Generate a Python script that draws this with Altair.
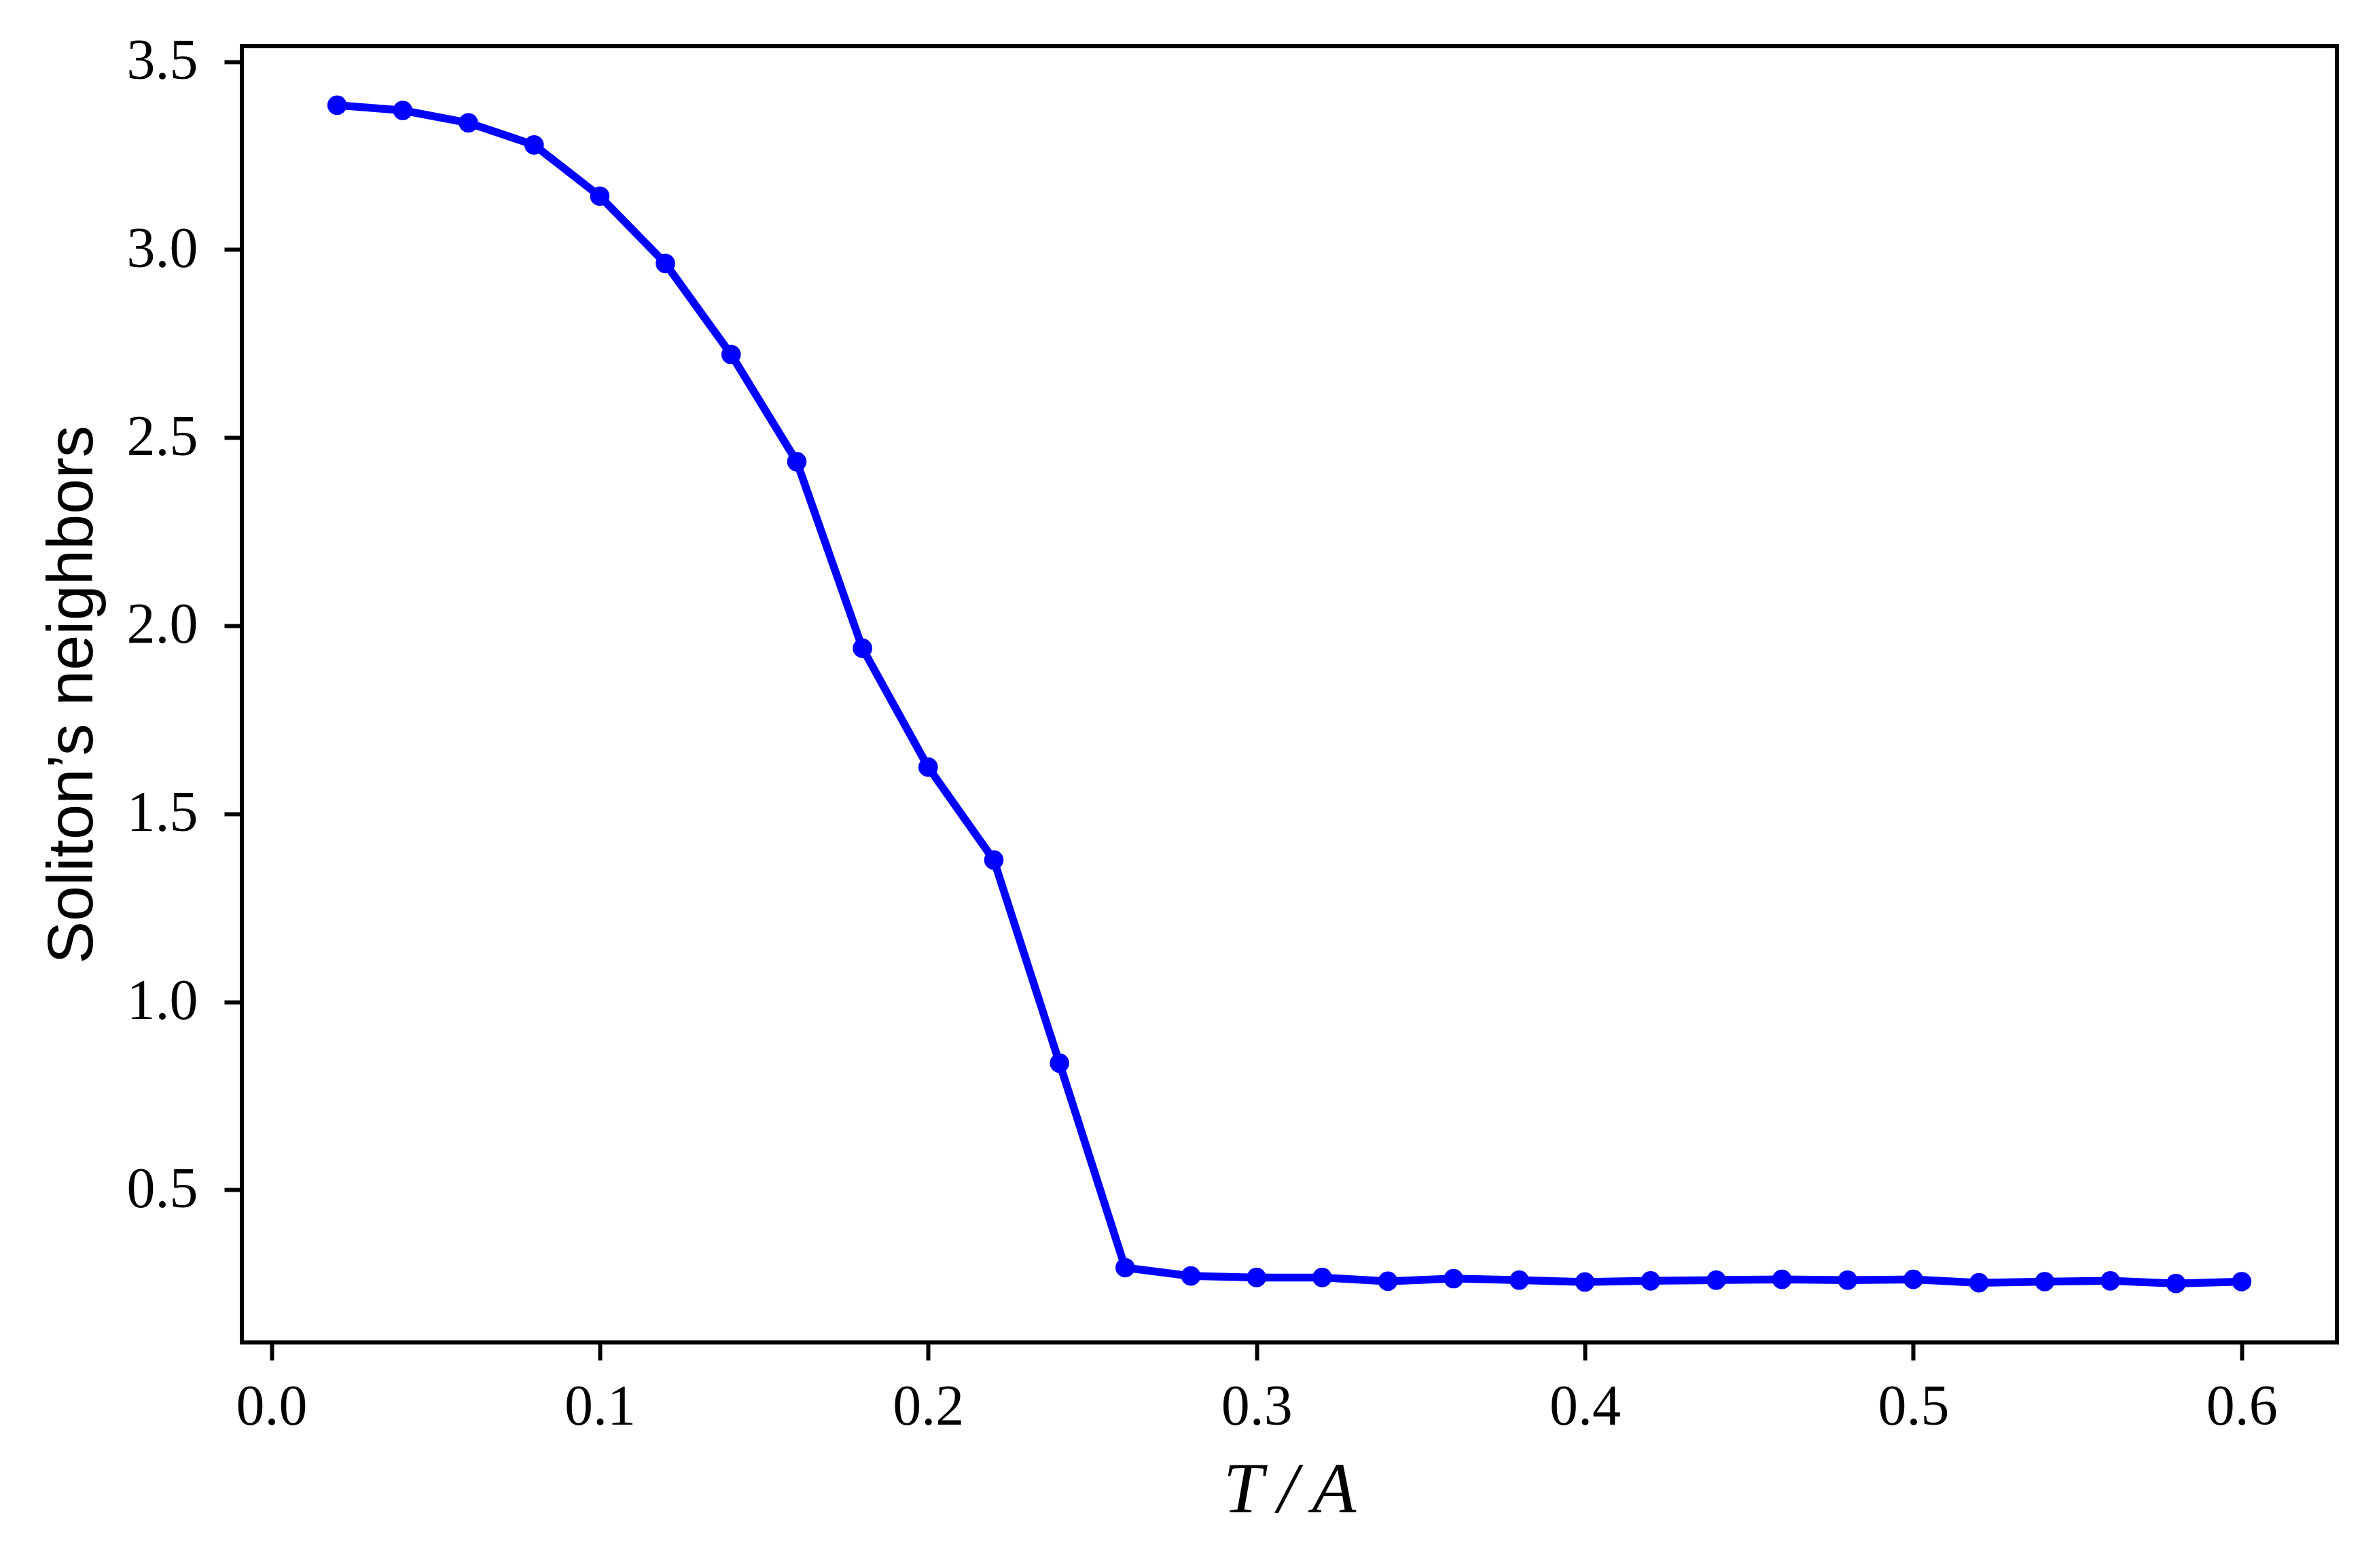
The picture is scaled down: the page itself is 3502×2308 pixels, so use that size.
import altair as alt
import pandas as pd

# Data
t_over_a = [0.02, 0.04, 0.06, 0.08, 0.10, 0.12, 0.14, 0.16, 0.18, 0.20,
            0.22, 0.24, 0.26, 0.28, 0.30, 0.32, 0.34, 0.36, 0.38, 0.40,
            0.42, 0.44, 0.46, 0.48, 0.50, 0.52, 0.54, 0.56, 0.58, 0.60]
neighbors = [3.384, 3.370, 3.337, 3.278, 3.142, 2.963, 2.721, 2.436, 1.940, 1.624,
             1.377, 0.837, 0.293, 0.271, 0.267, 0.267, 0.257, 0.264, 0.260, 0.255,
             0.258, 0.260, 0.262, 0.260, 0.262, 0.253, 0.256, 0.258, 0.251, 0.256]

x_ticks = [0.0, 0.1, 0.2, 0.3, 0.4, 0.5, 0.6]
y_ticks = [0.5, 1.0, 1.5, 2.0, 2.5, 3.0, 3.5]
x_domain = [-0.009, 0.629]
y_domain = [0.0943, 3.5407]

df = pd.DataFrame({"T": t_over_a, "N": neighbors})

BLUE = "#0000ff"

x_enc = alt.X(
    "T:Q",
    scale=alt.Scale(domain=x_domain, nice=False, zero=False),
    axis=alt.Axis(
        values=x_ticks, format=".1f", title="T\u2009/\u2009A",
        titleFont="Liberation Serif", titleFontStyle="italic",
        titleFontWeight="normal", titleFontSize=106, titleColor="black",
        titleY=249, titleBaseline="alphabetic",
        labelPadding=28,
    ),
)
y_enc = alt.Y(
    "N:Q",
    scale=alt.Scale(domain=y_domain, nice=False, zero=False),
    axis=alt.Axis(
        values=y_ticks, format=".1f", title="Soliton\u2019s neighbors",
        titleFont="Liberation Sans", titleFontWeight="normal",
        titleFontSize=94, titleColor="black",
        titleX=-221, titleBaseline="alphabetic",
        labelPadding=39,
    ),
)

line = alt.Chart(df).mark_line(color=BLUE, strokeWidth=11.5).encode(x=x_enc, y=y_enc)
pts = alt.Chart(df).mark_circle(color=BLUE, size=820, opacity=1).encode(x="T:Q", y="N:Q")

chart = (
    alt.layer(line, pts)
    .properties(
        width=3084,
        height=1908,
        autosize=alt.AutoSizeParams(type="none"),
        padding={"left": 348, "top": 60, "right": 54, "bottom": 324},
        background="white",
    )
    .configure_view(stroke="black", strokeWidth=6)
    .configure_axis(
        grid=False,
        domain=False,
        ticks=True,
        tickColor="black",
        tickWidth=6,
        tickSize=26,
        labelFont="Liberation Serif",
        labelFontSize=84,
        labelColor="black",
    )
)

chart.save("out.html", embed_options={"renderer": "svg", "actions": False})
